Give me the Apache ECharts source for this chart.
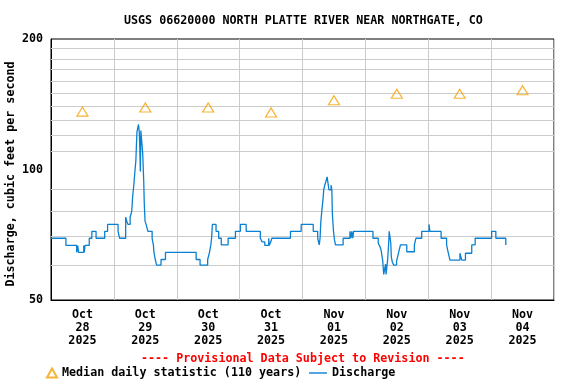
<!DOCTYPE html>
<html>
<head>
<meta charset="utf-8">
<script src="https://cdn.jsdelivr.net/npm/echarts@6/dist/echarts.min.js"></script>
<style>html,body{margin:0;padding:0;background:#fff}#c{width:576px;height:384px}</style>
</head>
<body>
<div id="c"></div>
<script>
// ---- data ----
const chartTitle = 'USGS 06620000 NORTH PLATTE RIVER NEAR NORTHGATE, CO';
const provisionalNote = '---- Provisional Data Subject to Revision ----';
const yAxisTitle = 'Discharge, cubic feet per second';
const dayLabels = ['Oct\n28\n2025','Oct\n29\n2025','Oct\n30\n2025','Oct\n31\n2025','Nov\n01\n2025','Nov\n02\n2025','Nov\n03\n2025','Nov\n04\n2025'];
const yTickValues = [50, 100, 200];
const gridValues = [60, 70, 80, 90, 110, 120, 130, 140, 150, 160, 170, 180, 190];
// median daily statistic, at noon of each day (hours since Oct 28 00:00)
const medianHours = [12, 36, 60, 84, 108, 132, 156, 180];
const medianValues = [136, 139, 139, 135.4, 144.4, 149.5, 149.5, 152.3];
// discharge (hours since Oct 28 00:00, cfs) - value holds until next point
const discharge = [
 [0,69.4],[5.7,66.8],[9.8,64.4],[10.2,66.8],[10.5,64.4],[12.5,66.8],[12.7,64.4],[13.0,66.8],
 [14.6,69.4],[15.6,72],[17.2,69.4],[20.5,72],[21.6,74.7],[25.6,72],[26.2,69.4],
 [28.5,77.6],[29.0,75.8],[29.4,74.7],[30.2,77.6],[30.8,80],[31.2,87],[31.6,92],[32.0,98.5],
 [32.4,105],[32.8,122],[33.1,124.6],[33.4,127],[33.7,122],[33.9,112],[34.1,99],[34.3,123],
 [34.7,122],[35.0,109],[35.4,93.7],[35.6,83.6],[35.9,76],[36.3,74.7],[37.0,72],[38.6,69.4],
 [39.1,66.8],[39.3,64.4],[39.8,62],[40.3,60.2],[42.0,62],[43.7,64.4],[55.4,62],[56.9,60.2],
 [59.8,62],[60.5,64.4],[61.0,67],[61.3,69.4],[61.6,74.7],[63.0,72],[64.0,69.4],[65.0,67],
 [67.6,69.4],[70.4,72],[72.3,74.7],[74.5,72],[79.9,69.4],[80.6,68.1],[81.6,66.8],[83.1,69.4],
 [83.3,66.8],[83.9,68.1],[84.3,69.4],[91.4,72],[95.5,74.7],[100.1,72],[101.8,69.4],
 [102.4,67],[102.7,69.4],[103.0,75.8],[103.4,80.6],[103.8,85],[104.1,89.7],[104.5,92],
 [104.9,93.7],[105.4,96.2],[106.1,89.7],[106.9,92],[107.2,89.7],[107.4,79],[107.8,72.4],
 [108.2,68.8],[108.6,67],[111.5,69.4],[114.1,72],[114.5,69.4],[114.8,72],[115.2,69.4],[115.5,72],
 [122.9,69.4],[124.9,67.6],[125.6,66.3],[126.0,65.2],[126.6,61.8],[127.0,57.3],[127.7,60.5],
 [127.9,57.3],[128.5,62],[128.9,67.6],[129.1,72],[129.7,67.6],[129.9,62.9],[130.3,61.1],
 [130.8,60.2],[131.9,61.5],[132.3,62.9],[132.9,65.2],[133.4,67.0],[135.8,64.6],[138.7,67.0],
 [139.3,69.4],[141.5,72],[144.3,74.7],[144.6,72],[148.9,69.4],[151.0,67],[151.6,64.4],
 [152.3,61.8],[156.1,64.1],[156.8,61.8],[158.2,64.1],[160.6,67],[161.9,69.4],[168.2,72],
 [169.8,69.4],[173.6,67],[173.7,67]
];

// ---- chart ----
const FONT = 'DejaVu Sans Mono';
const txt = {fontFamily: FONT, fontWeight: 'bold', fontSize: 11.7, color: '#000'};
const chart = echarts.init(document.getElementById('c'), null, {renderer: 'canvas'});
chart.setOption({
  animation: false,
  backgroundColor: '#fff',
  title: [
    {text: chartTitle, left: 124, top: 15, padding: 0, textStyle: Object.assign({}, txt)},
    {text: provisionalNote, left: 141, top: 353, padding: 0, textStyle: Object.assign({}, txt, {color: '#ff0000'})}
  ],
  legend: [
    {left: 46, top: 367, itemWidth: 10, itemHeight: 9, data: [{name: 'Median daily statistic (110 years)'}],
     textStyle: Object.assign({}, txt), padding: 0},
    {left: 309, top: 367, itemWidth: 18, itemHeight: 1.4, icon: 'rect', itemGap: 0, data: [{name: 'Discharge'}],
     textStyle: Object.assign({}, txt), padding: 0}
  ],
  grid: {left: 51, top: 39, width: 503, height: 261, outerBoundsMode: 'none', containLabel: false,
         show: true, borderColor: '#000', borderWidth: 1, backgroundColor: 'transparent'},
  xAxis: [
    {type: 'value', min: 0, max: 192, interval: 24, position: 'bottom',
     axisLabel: {show: false}, axisTick: {show: false},
     axisLine: {show: true, lineStyle: {color: '#000'}},
     splitLine: {show: true, lineStyle: {color: '#cccccc', width: 1}}},
    {type: 'category', data: dayLabels, position: 'bottom', offset: 0, boundaryGap: true,
     axisLine: {show: false}, axisTick: {show: false}, splitLine: {show: false},
     axisLabel: Object.assign({}, txt, {margin: 8, lineHeight: 13, interval: 0})}
  ],
  yAxis: {
    type: 'log', logBase: 10, min: 50, max: 200,
    axisLine: {show: true, lineStyle: {color: '#000'}}, axisTick: {show: false},
    splitLine: {show: false}, minorTick: {show: false}, minorSplitLine: {show: false},
    axisLabel: Object.assign({}, txt, {margin: 8, formatter: v => String(Math.round(v)),
      customValues: yTickValues}),
    name: yAxisTitle, nameLocation: 'middle', nameGap: 34, nameMoveOverlap: false,
    nameTextStyle: Object.assign({}, txt, {padding: [0, 9, 0, 0]})
  },
  series: [
    {name: 'Median daily statistic (110 years)', type: 'scatter', xAxisIndex: 0, z: 4,
     data: medianHours.map((h, i) => [h, medianValues[i]]),
     symbol: 'triangle', symbolSize: [11, 9],
     itemStyle: {color: 'rgba(255,255,255,0)', borderColor: '#f5a000', borderWidth: 1.2},
     markLine: {silent: true, z: 1, symbol: ['none', 'none'], label: {show: false},
       lineStyle: {color: '#cccccc', width: 1, type: 'solid'}, emphasis: {disabled: true},
       data: gridValues.map(v => ({yAxis: v}))}},
    {name: 'Discharge', type: 'line', xAxisIndex: 0, z: 3, step: 'end',
     data: discharge, showSymbol: false, symbol: 'none',
     lineStyle: {color: '#0a80d2', width: 1.3}, itemStyle: {color: '#0a80d2'}}
  ]
});
</script>
</body>
</html>
